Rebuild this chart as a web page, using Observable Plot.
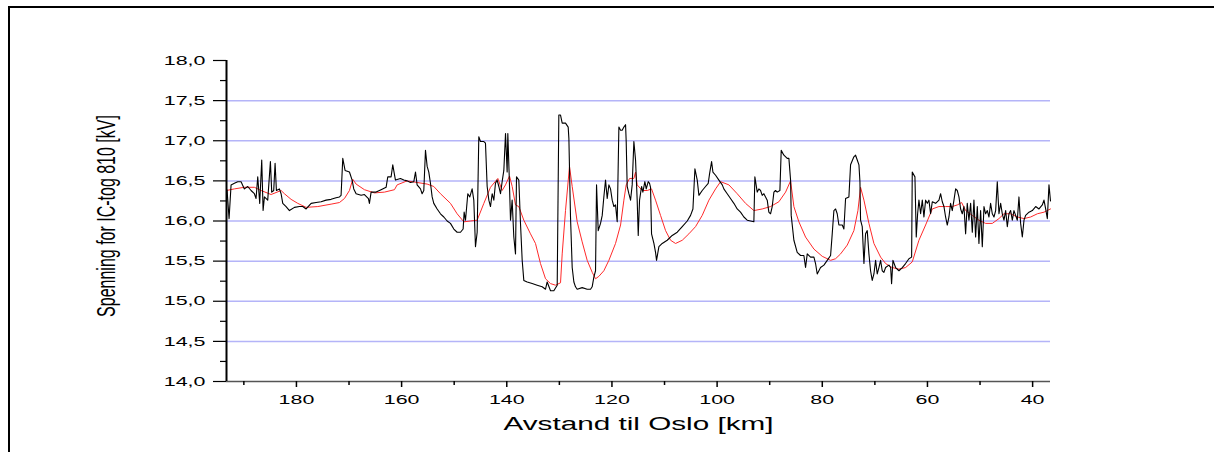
<!DOCTYPE html>
<html><head><meta charset="utf-8">
<script src="https://cdn.jsdelivr.net/npm/d3@7"></script>
<script src="https://cdn.jsdelivr.net/npm/@observablehq/plot@0.6"></script>
<style>
html,body{margin:0;padding:0;background:#fff;overflow:hidden;}
#wrap{position:relative;width:1214px;height:452px;overflow:hidden;}
#border{position:absolute;left:8px;top:6px;width:1300px;height:600px;border-top:2px solid #000;border-left:2px solid #000;pointer-events:none;}
</style></head><body><div id="wrap"><div id="border"></div></div>
<script>
// measured voltage (black)
const kmBlack = [193.3,193.19,192.81,192.43,191.8,191.16,190.53,189.9,189.26,188.63,188.0,187.68,187.36,186.98,186.6,186.34,186.09,185.46,184.95,184.7,184.32,184.06,183.81,183.24,182.92,182.6,181.97,181.33,180.38,179.43,178.8,178.16,177.21,176.26,175.31,174.36,173.41,172.46,171.82,171.51,171.19,170.75,169.92,169.41,169.1,168.65,167.7,167.07,166.31,166.12,165.8,164.85,163.9,162.95,162.63,162.0,161.68,161.17,160.22,159.58,158.95,158.32,157.68,157.36,157.05,156.41,156.1,155.78,155.46,155.14,154.83,154.51,154.19,153.88,153.24,152.61,151.97,151.34,150.71,150.07,149.44,148.8,148.3,148.11,147.85,147.41,147.03,146.59,146.27,145.95,145.63,145.32,145.0,144.36,144.05,143.73,143.41,143.1,142.78,142.46,142.15,141.83,141.51,141.19,140.88,140.56,140.24,139.93,139.8,139.55,139.29,138.98,138.66,138.34,138.15,137.71,137.39,137.07,136.76,136.12,135.17,134.22,133.27,132.63,132.32,131.68,131.05,130.41,130.1,129.78,129.46,128.83,128.32,128.19,127.88,127.56,127.24,126.93,126.61,125.66,124.71,124.07,123.76,123.44,123.12,122.93,122.61,122.17,121.85,121.54,121.22,120.9,120.58,120.27,119.95,119.63,119.32,119.0,118.68,118.36,118.05,117.73,117.41,117.29,117.1,116.78,116.46,116.15,115.83,115.51,115.2,115.0,114.75,114.37,114.12,113.74,113.48,113.1,112.85,112.66,112.47,112.02,111.71,111.52,111.07,110.44,109.49,108.54,107.58,106.63,105.68,105.05,104.6,104.22,103.78,103.46,102.83,102.2,101.69,101.43,101.05,100.8,100.29,99.66,99.02,98.72,98.08,97.45,96.81,96.18,95.55,94.91,94.28,93.64,93.01,92.82,92.37,92.06,91.74,91.42,91.11,90.79,90.47,90.16,89.84,89.52,89.2,88.89,88.57,88.06,87.81,87.3,86.67,86.35,86.03,85.91,85.4,84.77,84.13,83.5,83.18,82.86,82.23,81.59,81.28,80.96,80.33,79.69,79.06,78.42,78.11,77.79,77.47,77.16,76.84,76.2,75.89,75.57,74.94,74.62,73.99,73.67,73.35,73.03,72.84,72.72,72.4,72.08,71.77,71.45,71.13,70.82,70.5,70.18,69.86,69.55,69.23,68.91,68.6,68.28,67.96,67.33,67.0,66.82,66.56,66.06,65.42,64.79,64.16,63.52,63.01,62.89,62.38,62.13,61.87,61.62,61.3,60.98,60.67,60.35,60.03,59.72,59.4,59.08,58.45,57.81,57.5,57.18,56.86,56.55,56.23,55.91,55.6,55.28,54.96,54.64,54.33,54.01,53.69,53.38,53.06,52.74,52.43,52.11,51.79,51.47,51.16,50.84,50.52,50.21,49.89,49.57,49.25,48.94,48.62,48.3,47.99,47.67,47.35,47.03,46.72,46.4,46.08,45.77,45.45,45.13,44.81,44.5,44.18,43.86,43.55,43.23,42.91,42.6,42.28,41.96,41.64,41.33,40.69,40.06,39.42,38.79,38.16,37.84,37.52,37.2,36.89,36.6];
const kvBlack = [16.40,16.38,16.03,16.45,16.47,16.49,16.49,16.40,16.43,16.38,16.34,16.28,16.55,16.22,16.76,16.13,16.30,16.26,16.74,16.36,16.38,16.72,16.38,16.40,16.34,16.22,16.18,16.13,16.17,16.18,16.18,16.15,16.22,16.23,16.24,16.26,16.27,16.29,16.30,16.32,16.78,16.63,16.61,16.51,16.40,16.34,16.32,16.33,16.28,16.22,16.36,16.36,16.39,16.42,16.55,16.55,16.70,16.51,16.53,16.51,16.50,16.48,16.49,16.61,16.45,16.40,16.34,16.38,16.88,16.68,16.61,16.47,16.30,16.22,16.15,16.09,16.05,16.00,15.97,15.90,15.86,15.86,15.90,16.11,16.01,16.34,16.30,16.40,16.26,15.68,15.86,17.05,16.99,16.99,16.97,16.43,16.26,16.18,16.34,16.26,16.47,16.51,16.43,16.34,16.49,16.63,17.09,16.61,17.09,16.59,16.01,16.26,15.80,15.59,16.55,16.51,15.97,15.51,15.26,15.24,15.22,15.20,15.18,15.15,15.24,15.13,15.13,15.20,17.32,17.32,17.22,17.22,17.17,17.03,16.05,15.42,15.24,15.18,15.15,15.17,15.15,15.15,15.18,15.30,15.38,16.45,15.88,15.97,16.07,16.30,16.51,16.28,16.45,16.40,16.26,16.18,16.20,15.99,17.17,17.13,17.13,17.17,17.20,16.99,16.43,16.34,16.26,16.45,16.99,16.76,16.26,15.82,16.26,16.43,16.36,16.49,16.40,16.49,16.47,16.42,15.84,15.72,15.61,15.51,15.68,15.72,15.76,15.82,15.86,15.93,16.00,16.07,16.15,16.65,16.51,16.32,16.38,16.43,16.47,16.59,16.74,16.61,16.57,16.51,16.45,16.40,16.34,16.28,16.22,16.15,16.11,16.05,16.01,16.00,15.99,16.55,16.36,16.40,16.38,16.32,16.34,16.30,16.26,16.11,16.09,16.18,16.36,16.38,16.36,16.38,16.88,16.82,16.78,16.78,16.51,16.07,15.76,15.61,15.57,15.57,15.42,15.59,15.55,15.55,15.47,15.34,15.42,15.45,15.51,15.57,15.84,16.13,16.15,16.09,15.95,15.95,15.90,16.28,16.30,16.70,16.80,16.82,16.76,16.70,16.49,16.01,15.93,15.47,15.84,15.88,15.59,15.38,15.26,15.34,15.51,15.34,15.42,15.51,15.38,15.36,15.42,15.45,15.42,15.22,15.51,15.42,15.38,15.42,15.47,15.53,15.55,16.61,16.55,15.80,16.09,16.26,16.09,16.26,16.05,16.26,16.22,16.26,16.09,16.24,16.22,16.26,16.34,16.24,16.18,16.05,15.95,16.05,16.22,16.13,16.26,16.40,16.38,16.30,16.15,16.09,16.18,15.84,16.22,16.01,16.22,15.86,16.26,15.80,16.18,15.72,16.13,15.68,16.18,16.09,16.13,16.05,16.22,16.09,16.05,16.13,16.49,16.09,16.22,16.09,16.01,16.13,15.93,16.09,16.13,16.01,16.13,16.07,16.01,16.30,15.97,15.80,16.01,16.07,16.11,16.13,16.18,16.15,16.20,16.26,16.15,16.03,16.45,16.25];
// smoothed / simulated voltage (red)
const kmRed = [193.3,191.8,189.9,188.0,186.72,184.82,182.92,182.29,181.02,179.75,178.16,175.94,173.41,171.82,170.87,169.92,169.29,168.65,167.07,165.17,163.26,161.36,160.85,158.95,157.05,155.14,153.88,152.61,150.71,149.44,148.17,146.9,145.63,144.36,143.1,141.7,140.88,140.24,139.48,138.97,138.34,137.71,136.76,135.49,134.54,133.59,132.63,131.68,130.73,129.78,129.46,128.83,128.07,127.56,126.61,125.66,124.71,123.75,123.12,122.49,121.54,120.58,119.32,118.36,117.73,117.29,116.65,115.83,115.51,115.2,114.24,113.29,112.47,111.71,110.76,109.8,108.85,107.9,106.63,105.37,104.1,102.83,101.56,100.29,99.34,97.76,96.18,94.59,93.01,91.42,89.84,88.25,86.98,86.03,85.4,84.45,83.18,81.59,80.01,78.42,77.47,76.52,75.25,73.99,73.22,72.72,72.08,71.13,70.18,68.91,67.96,67.0,66.69,65.42,64.16,62.89,61.62,60.35,59.08,57.81,56.55,55.28,54.33,53.5,52.74,51.47,50.21,48.94,47.67,46.4,45.45,44.18,42.91,41.64,40.37,39.1,37.84,36.6];
const kvRed = [16.38,16.40,16.42,16.42,16.38,16.33,16.38,16.34,16.27,16.22,16.17,16.18,16.21,16.23,16.28,16.38,16.52,16.46,16.39,16.35,16.36,16.39,16.45,16.50,16.48,16.46,16.43,16.34,16.22,16.09,15.99,16.00,16.01,16.22,16.42,16.53,16.38,16.45,16.56,16.43,16.20,16.18,16.01,15.84,15.72,15.47,15.28,15.22,15.20,15.23,15.59,16.13,16.68,16.43,15.99,15.74,15.51,15.36,15.28,15.31,15.38,15.51,15.72,15.95,16.26,16.45,16.53,16.53,16.61,16.45,16.38,16.38,16.40,16.26,16.07,15.88,15.76,15.72,15.76,15.84,15.93,16.07,16.26,16.40,16.49,16.45,16.34,16.22,16.13,16.15,16.18,16.24,16.36,16.50,16.18,15.99,15.80,15.65,15.56,15.51,15.53,15.59,15.70,15.88,16.13,16.42,16.26,15.97,15.72,15.55,15.47,15.43,15.42,15.40,15.42,15.49,15.76,15.95,16.15,16.18,16.18,16.18,16.20,16.23,16.13,16.07,16.01,15.97,15.97,16.03,16.09,16.09,16.05,16.03,16.05,16.09,16.11,16.15];

const yMajorTicks = [14, 14.5, 15, 15.5, 16, 16.5, 17, 17.5, 18];
const yMinorTicks = [14.25, 14.75, 15.25, 15.75, 16.25, 16.75, 17.25, 17.75];
const gridY = [14.5, 15, 15.5, 16, 16.5, 17, 17.5];
const xMajorTicks = [180, 160, 140, 120, 100, 80, 60, 40];
const xMinorTicks = [190, 170, 150, 130, 110, 90, 70, 50];
const xDomain = [193.3, 36.6];
const yDomain = [14, 18];
const xLabel = "Avstand til Oslo [km]";
const yLabel = "Spenning for IC-tog 810 [kV]";

const black = kmBlack.map((k, i) => ({km: k, kv: kvBlack[i]}));
const red = kmRed.map((k, i) => ({km: k, kv: kvRed[i]}));
const fmt = v => d3.format(".1f")(v).replace(".", ",");

const plot = Plot.plot({
  width: 1214, height: 452,
  marginLeft: 226, marginRight: 164, marginTop: 60, marginBottom: 71,
  x: {domain: xDomain},
  y: {domain: yDomain},
  style: {fontFamily: "Liberation Sans, Arial, sans-serif", background: "transparent", color: "#000"},
  marks: [
    Plot.ruleY(gridY, {stroke: "#b4b4f8", strokeWidth: 1.5}),
    Plot.line(red, {x: "km", y: "kv", stroke: "#ff2a2a", strokeWidth: 1}),
    Plot.line(black, {x: "km", y: "kv", stroke: "#000", strokeWidth: 1.1}),
    Plot.ruleY([yDomain[0]], {stroke: "#555", strokeWidth: 1.5}),
    Plot.ruleX([xDomain[0]], {stroke: "#000", strokeWidth: 2}),
    Plot.axisY({ticks: yMajorTicks, tickSize: 13, tickPadding: 8, tickFormat: fmt, fontSize: 13, label: null, strokeWidth: 1.2}),
    Plot.axisY({ticks: yMinorTicks, tickSize: 6, tickFormat: () => "", label: null, strokeWidth: 1.2}),
    Plot.axisX({ticks: xMajorTicks, tickSize: 6, tickPadding: 7, tickFormat: d => String(d), fontSize: 13, label: null, strokeWidth: 1.5}),
    Plot.axisX({ticks: xMinorTicks, tickSize: 4, tickFormat: () => "", label: null, strokeWidth: 1.5}),
    Plot.text([xLabel], {frameAnchor: "bottom", dy: 48, fontSize: 18, text: d => d}),
    Plot.text([yLabel], {frameAnchor: "left", textAnchor: "middle", rotate: -90, dx: -120, dy: -5, fontSize: 16, text: d => d})
  ]
});
document.getElementById("wrap").appendChild(plot);

// the original picture is stretched horizontally: stretch all texts likewise
function stretch(el, s) {
  let t = el.getAttribute("transform") || "";
  if (/translate\(/.test(t)) {
    t = t.replace(/translate\([^)]*\)/, m => m + ` scale(${s},1)`);
  } else {
    const x = +el.getAttribute("x") || 0, y = +el.getAttribute("y") || 0;
    el.removeAttribute("x"); el.removeAttribute("y");
    t = `translate(${x},${y}) scale(${s},1) ` + t;
  }
  el.setAttribute("transform", t);
}
d3.select(plot).selectAll("text").each(function() { stretch(this, 1.65); });
</script>
</body></html>
